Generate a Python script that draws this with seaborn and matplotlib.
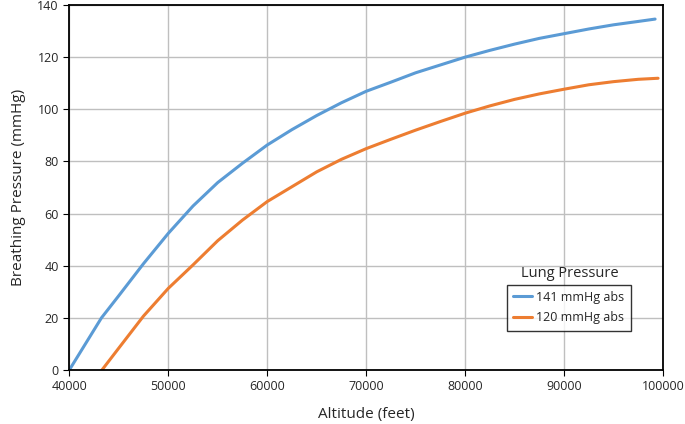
import seaborn as sns
import matplotlib.pyplot as plt
import pandas as pd

alt_141 = [40000, 43250, 45000, 47500, 50000, 52500, 55000, 57500, 60000, 62500, 65000,
           67500, 70000, 72500, 75000, 77500, 80000, 82500, 85000, 87500, 90000,
           92500, 95000, 97500, 99200]
p_141 = [0, 20, 28.5, 40.8, 52.4, 62.9, 71.9, 79.3, 86.3, 92.2, 97.6,
         102.5, 106.9, 110.4, 114, 117, 120, 122.6, 125, 127.2, 129,
         130.8, 132.4, 133.7, 134.6]
alt_120 = [43300, 45000, 47500, 50000, 52500, 55000, 57500, 60000, 62500, 65000,
           67500, 70000, 72500, 75000, 77500, 80000, 82500, 85000, 87500, 90000,
           92500, 95000, 97500, 99500]
p_120 = [0, 8.4, 20.7, 31.3, 40.3, 49.6, 57.5, 64.6, 70.3, 76, 80.8, 84.9, 88.5,
         92, 95.3, 98.5, 101.3, 103.8, 105.9, 107.7, 109.4, 110.6, 111.5, 111.9]
series_names = ["141 mmHg abs", "120 mmHg abs"]

df = pd.concat([
    pd.DataFrame({"Altitude": alt_141, "Pressure": p_141, "series": series_names[0]}),
    pd.DataFrame({"Altitude": alt_120, "Pressure": p_120, "series": series_names[1]}),
])

sns.set_style("white")
plt.rcParams['font.family'] = ['Open Sans', 'DejaVu Sans']

fig = plt.figure(figsize=(6.85, 4.24), dpi=100)
ax = fig.add_axes([0.1012, 0.1274, 0.8667, 0.8608])

sns.lineplot(data=df, x="Altitude", y="Pressure", hue="series", sort=False,
             palette=["#5b9bd5", "#ed7d31"], linewidth=2.2, ax=ax, legend=True)

ax.set_xlim(40000, 100000)
ax.set_ylim(0, 140)
ax.set_xticks(range(40000, 100001, 10000))
ax.set_yticks(range(0, 141, 20))
ax.grid(True, color="#bfbfbf", linewidth=1)
ax.set_axisbelow(True)
for s in ax.spines.values():
    s.set_color("black")
    s.set_linewidth(1.3)
ax.tick_params(axis="both", labelsize=9, length=4, direction="out", color="black",
               bottom=True, left=True)
ax.set_xlabel("Altitude (feet)", fontsize=11, labelpad=10)
ax.set_ylabel("Breathing Pressure (mmHg)", fontsize=11, labelpad=8)

leg = ax.legend(title=None, loc="lower left", bbox_to_anchor=(0.737, 0.108),
                frameon=True, fancybox=False, edgecolor="black", fontsize=9,
                handlelength=1.5, handletextpad=0.35, borderpad=0.5,
                borderaxespad=0, labelspacing=0.6)
leg.get_frame().set_linewidth(1)
ax.text(0.843, 0.245, "Lung Pressure", transform=ax.transAxes, ha="center",
        va="bottom", fontsize=10.5)

fig.savefig("out.png", dpi=100)
